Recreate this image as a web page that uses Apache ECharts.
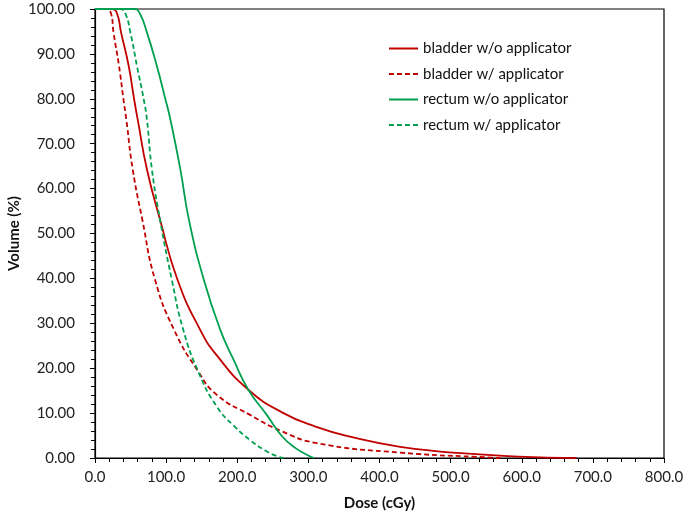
<!DOCTYPE html>
<html>
<head>
<meta charset="utf-8">
<script src="https://cdn.jsdelivr.net/npm/echarts@6/dist/echarts.min.js"></script>
<style>
    html, body { margin: 0; padding: 0; background: #fff; }
    #chart { width: 685px; height: 517px; }
</style>
</head>
<body>
<div id="chart"></div>
<script>
// dose (cGy) / volume (%) pairs
const bladderNoApp = [
    [0, 100], [24, 100], [31, 99], [36.6, 94.8], [47.4, 87.3], [55, 79.9], [60, 75.4], [73, 64.3],
    [91.4, 53.1], [116, 39.7], [147.7, 28.6], [171, 22.9], [215.6, 15.2], [265, 10],
    [310, 7], [358.6, 4.75], [429, 2.5], [530, 0.9], [635, 0.1], [677, 0]
];
const bladderApp = [
    [0, 100], [16, 100], [22.5, 99], [26, 94.8], [33.8, 87.3], [40, 79.9], [44, 75.4], [53, 64.3],
    [66.5, 53.1], [84.4, 39.7], [111, 28.6], [145, 19.3], [171, 14.1], [218, 9.6],
    [262, 6], [312, 3.3], [429, 1.2], [556, 0.1], [570, 0]
];
const rectumNoApp = [
    [0, 100], [55, 100], [63, 99], [73, 94.8], [87, 87.3], [99, 79.9], [106, 75.4], [120, 64.3],
    [132, 53.1], [153, 39.7], [176, 28.6], [194.5, 22], [215.6, 15.2], [241.5, 9.6],
    [262.6, 4.9], [282, 2.2], [302, 0.4], [308, 0]
];
const rectumApp = [
    [0, 100], [35, 100], [42.6, 99], [49.7, 94.8], [59, 87.3], [68.5, 79.9], [73, 75.4], [80, 64.3],
    [91.4, 53.1], [108, 39.7], [124, 28.6], [145, 19.3], [171, 11.5], [195, 7.2], [218, 4],
    [240, 1.6], [255.6, 0.4], [265, 0]
];
const seriesNames = ['bladder w/o applicator', 'bladder w/ applicator', 'rectum w/o applicator', 'rectum w/ applicator'];

const RED = '#C00000';
const GREEN = '#00A050';
const FONT = 'Lato';

function line(name, data, color, dashed) {
    return {
        name: name,
        type: 'line',
        data: data,
        smooth: 0.5,
        symbol: 'none',
        lineStyle: { color: color, width: 1.8, type: dashed ? [5, 3] : 'solid' },
        itemStyle: { color: color }
    };
}

var myChart = echarts.init(document.getElementById('chart'));
var option = {
    backgroundColor: '#fff',
    animation: false,
    textStyle: { fontFamily: FONT },
    grid: {
        left: 95, right: 21, top: 9, bottom: 59,
        outerBoundsMode: 'none',
        containLabel: false,
        show: true, borderColor: '#000', borderWidth: 1.2
    },
    legend: {
        orient: 'vertical',
        left: 383, top: 36,
        itemWidth: 29, itemHeight: 14, itemGap: 10.5,
        itemStyle: { opacity: 0 },
        textStyle: { fontFamily: FONT, fontSize: 15, color: '#111' },
        data: seriesNames
    },
    xAxis: {
        type: 'value', min: 0, max: 800, interval: 100,
        name: 'Dose (cGy)', nameLocation: 'middle', nameGap: 38,
        nameMoveOverlap: false,
        nameTextStyle: { fontFamily: FONT, fontSize: 15, fontWeight: 'bold', color: '#111' },
        axisLine: { show: true, lineStyle: { color: '#000', width: 1.2 } },
        axisTick: { show: true, length: 5, lineStyle: { color: '#000' } },
        minorTick: { show: true, splitNumber: 5, length: 4, lineStyle: { color: '#000' } },
        splitLine: { show: false },
        axisLabel: { fontFamily: FONT, fontSize: 15, color: '#222', margin: 12, formatter: v => v.toFixed(1) }
    },
    yAxis: {
        type: 'value', min: 0, max: 100, interval: 10,
        name: 'Volume (%)', nameLocation: 'middle', nameGap: 73,
        nameMoveOverlap: false,
        nameTextStyle: { fontFamily: FONT, fontSize: 15, fontWeight: 'bold', color: '#111' },
        axisLine: { show: true, lineStyle: { color: '#000', width: 1.2 } },
        axisTick: { show: true, length: 5, lineStyle: { color: '#000' } },
        minorTick: { show: true, splitNumber: 5, length: 4, lineStyle: { color: '#000' } },
        splitLine: { show: false },
        axisLabel: { fontFamily: FONT, fontSize: 15, color: '#222', margin: 20, formatter: v => v.toFixed(2) }
    },
    series: [
        line(seriesNames[0], bladderNoApp, RED, false),
        line(seriesNames[1], bladderApp, RED, true),
        line(seriesNames[2], rectumNoApp, GREEN, false),
        line(seriesNames[3], rectumApp, GREEN, true)
    ]
};
option && myChart.setOption(option);
</script>
</body>
</html>
